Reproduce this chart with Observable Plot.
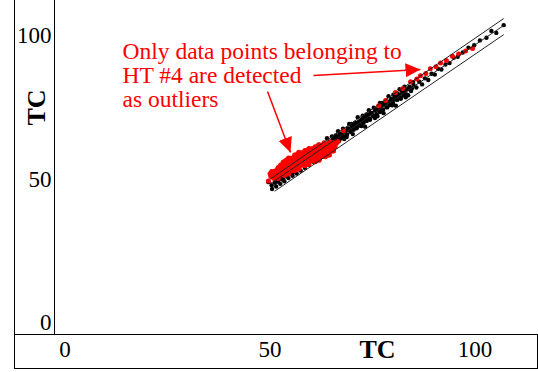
<!DOCTYPE html>
<html>
<head>
<meta charset="utf-8">
<script src="https://cdn.jsdelivr.net/npm/d3@7"></script>
<script src="https://cdn.jsdelivr.net/npm/@observablehq/plot@0.6"></script>
<style>
  html, body { margin: 0; padding: 0; background: #fff; }
  #wrap { position: relative; width: 538px; height: 372px; overflow: hidden; }
  #wrap svg { position: absolute; left: 0; top: 0; }
  .box { position: absolute; border: 1.5px solid #000; box-sizing: border-box; pointer-events: none; }
</style>
</head>
<body>
<div id="wrap"></div>
<script>
// ---- data ----
const xTicks = [0, 50, 100];
const yTicks = [0, 50, 100];
const axisTitle = "TC";

// three parallel reference lines (upper bound, fit, lower bound)
const lineNames  = ["upper", "center", "lower"];
const lineStartX = [50.1, 50.1, 51.1];
const lineStartY = [50.1, 48.5, 45.8];
const lineEndX   = [107.0, 107.0, 107.0];
const lineEndY   = [105.9, 103.5, 100.3];

// black points (normal data)
const blackX = [49.6,50.4,51.2,51.9,52.6,53.3,54.0,54.6,55.3,55.9,56.6,57.2,57.9,58.5,59.1,59.8,60.4,61.0,61.6,62.1,62.5,62.9,63.3,63.7,64.1,64.5,64.9,65.3,65.7,66.1,66.5,66.9,67.3,67.7,68.0,68.4,68.8,69.2,69.6,70.0,70.4,70.8,71.2,71.6,72.0,72.4,72.8,73.2,73.6,74.0,74.4,74.8,75.2,75.6,76.0,76.4,76.8,77.2,77.6,78.0,78.4,78.8,79.2,79.6,80.0,80.5,81.0,81.5,82.0,82.6,83.2,83.8,84.4,85.0,85.7,86.4,87.1,87.8,88.6,89.4,90.2,91.0,91.8,92.8,93.8,94.8,95.8,97.0,98.4,99.8,101.2,102.8,104.0,105.2,107.0,
  52.0,53.0,54.2,55.6,57.0,58.4,60.0,
  50.5,51.5,52.5,53.5,54.5,55.5,56.5,57.5,58.5,59.5,60.5,61.5,
  61.2,61.5,61.8,62.1,62.4,62.7,63.0,63.3,63.6,63.9,64.2,64.5,64.8,65.1,65.4,65.7,66.0,66.3,66.6,66.9,67.2,67.5,67.8,68.1,68.4,68.7,69.0,69.3,69.6,69.9,70.2,70.5,70.8,71.1,71.4,71.7,72.0,72.3,72.6,72.9,73.2,73.5,73.8,74.1,74.4,74.7,75.0,75.3,75.6,75.9,76.2,76.5,76.8,77.1,77.4,77.7,78.0,78.3,78.6,78.9,79.2,79.5,79.8,80.1,80.4,80.7,81.0,81.3,81.6,81.9,82.2,82.5,82.8,83.1,83.4,83.7,84.0,84.3,84.6,84.9];
const blackY = [49.0,47.9,48.8,49.6,50.2,50.6,51.8,52.0,53.4,53.1,54.6,54.4,55.9,55.8,57.3,57.0,58.9,58.6,60.1,59.4,61.2,60.3,61.8,62.4,61.5,63.1,62.2,63.9,62.9,64.6,63.7,65.4,64.3,66.2,65.0,66.8,65.6,67.6,66.5,68.4,67.2,69.1,68.0,69.9,68.8,70.8,69.6,71.4,70.3,72.5,71.0,73.0,71.9,73.9,72.6,74.6,73.4,75.5,74.2,76.3,75.1,77.0,75.8,77.9,76.6,78.6,77.6,79.5,78.4,80.6,79.6,81.6,80.7,82.8,81.9,83.9,83.0,85.1,84.5,86.7,86.4,88.4,88.2,89.9,90.4,92.3,92.6,94.1,95.8,96.6,98.3,99.2,101.6,100.9,103.6,
  49.1,49.9,51.0,52.4,53.6,55.1,56.7,
  46.6,47.5,48.4,49.3,50.4,51.2,52.0,53.0,54.0,55.0,56.1,57.2,
  57.4,60.4,62.0,59.8,61.9,58.4,61.2,62.4,60.4,64.3,61.4,63.0,61.2,64.9,63.3,61.0,65.2,64.2,66.7,63.4,65.8,64.8,67.6,64.0,66.7,64.7,67.7,69.2,67.0,69.2,65.7,68.5,69.7,67.7,71.6,68.7,70.3,68.5,72.1,70.5,68.3,72.5,71.5,74.0,70.7,73.1,72.1,74.9,71.3,74.0,71.9,74.9,76.5,74.3,76.5,73.0,75.8,77.0,75.0,78.9,76.0,77.5,75.7,79.4,77.8,75.6,79.8,78.8,81.3,78.0,80.4,79.4,82.2,78.5,81.2,79.2,82.2,83.8,81.6,83.8];

// red points (HT #4, detected outliers)
const redX = [50.0,50.2,50.4,50.6,50.8,51.0,51.2,51.4,51.6,51.8,52.0,52.2,52.4,52.6,52.8,53.0,53.2,53.4,53.6,53.8,54.0,54.2,54.4,54.6,54.8,55.0,55.2,55.4,55.6,55.8,56.0,56.2,56.4,56.6,56.8,57.0,57.2,57.4,57.6,57.8,58.0,58.2,58.4,58.6,58.8,59.0,59.2,59.4,59.6,59.8,60.0,60.2,60.4,60.6,60.8,61.0,61.2,61.4,61.6,61.8,62.0,62.2,62.4,62.6,62.8,63.0,63.2,63.4,63.6,63.8,64.0,64.2,64.4,64.6,64.8,65.0,65.3,65.6,65.9,66.2,66.6,
  51.0,51.0,51.5,51.5,52.0,52.0,52.5,52.5,53.0,53.0,53.5,53.5,54.0,54.0,54.5,54.5,55.0,55.0,55.5,55.5,56.0,56.0,56.5,56.5,57.0,57.0,57.5,57.5,58.0,58.0,58.5,58.5,59.0,59.0,59.5,59.5,60.0,60.0,60.5,60.5,61.0,61.0,61.5,61.5,62.0,62.0,62.5,62.5,63.0,63.0,63.5,63.5,64.0,64.0,64.5,64.5,65.0,65.0,65.5,65.5,
  52.25,52.25,53.25,53.25,54.25,54.25,55.25,55.25,56.25,56.25,57.25,57.25,58.25,58.25,59.25,59.25,60.25,60.25,61.25,61.25,62.25,62.25,63.25,63.25,64.25,64.25,
  49.6,67.9,76.5,78.2,80.6,82.4,84.3,85.8,86.7,88.0,89.1,90.5,91.6,93.0,94.5,96.0,97.7,99.4];
const redY = [51.9,51.0,52.7,50.7,52.0,52.8,51.4,52.7,52.3,53.5,50.3,53.8,52.3,55.0,52.0,53.8,55.9,51.8,53.9,53.2,55.4,52.0,55.2,54.1,56.2,55.9,53.9,57.3,53.0,55.5,57.1,54.0,56.5,55.6,57.9,53.7,57.2,55.7,58.4,55.4,57.2,59.3,55.2,57.3,56.6,58.8,55.4,58.6,57.5,59.6,59.3,57.3,60.7,56.4,58.9,60.5,57.4,59.9,59.0,61.3,57.1,60.6,59.1,61.8,58.8,60.6,62.7,58.6,60.7,60.0,62.2,58.8,62.0,60.9,63.0,62.1,61.2,62.8,61.3,62.5,63.1,
  52.4,50.3,53.0,50.7,54.1,50.6,54.4,51.7,54.9,51.7,56.2,51.3,56.7,51.7,57.4,51.8,57.3,53.1,57.4,53.2,58.4,53.0,58.6,53.6,59.4,53.6,59.2,54.9,59.2,55.0,60.0,54.7,60.1,55.2,60.7,55.2,60.5,56.4,60.4,56.5,61.3,56.1,61.3,56.6,62.0,56.6,61.7,57.8,61.5,58.0,62.3,57.8,62.2,58.3,62.7,58.4,62.5,59.7,62.3,59.8,
  53.6,51.6,54.6,52.6,55.4,53.4,56.2,54.2,56.9,54.9,57.7,55.7,58.3,56.3,58.8,56.8,59.4,57.4,59.9,57.9,60.4,58.4,61.0,59.0,61.4,59.4,
  49.4,66.9,75.6,77.4,80.2,81.6,83.9,84.9,86.0,86.8,88.4,89.1,90.4,91.3,92.8,93.6,94.6,95.5];

// annotation
const noteText = ["Only data points belonging to", "HT #4 are detected", "as outliers"];
const arrowX1 = [60.6, 49.4];
const arrowY1 = [86.1, 80.5];
const arrowX2 = [86.7, 55.0];
const arrowY2 = [88.2, 59.3];

// ---- chart ----
const serif = "Liberation Serif, Times New Roman, Times, serif";
const idx = (a) => a.map((_, i) => i);

const chart = Plot.plot({
  width: 538,
  height: 372,
  marginLeft: 64.5,
  marginRight: 63.5,
  marginTop: 35,
  marginBottom: 49.5,
  x: { domain: [0, 100] },
  y: { domain: [0, 100] },
  style: { fontFamily: serif, background: "transparent", overflow: "visible" },
  marks: [
    Plot.axisX({ ticks: xTicks, tickSize: 0, tickPadding: 18, fontSize: 23, fontFamily: serif, label: null, fill: "#000" }),
    Plot.axisY({ ticks: yTicks, tickSize: 0, tickPadding: 13.5, fontSize: 23, fontFamily: serif, label: null, fill: "#000" }),
    Plot.dot(idx(blackX), { x: (i) => blackX[i], y: (i) => blackY[i], r: 2.2, fill: "#000", stroke: "none" }),
    Plot.dot(idx(redX), { x: (i) => redX[i], y: (i) => redY[i], r: 2.5, fill: "#ff0000", stroke: "none" }),
    Plot.link(idx(lineNames), {
      x1: (i) => lineStartX[i], y1: (i) => lineStartY[i],
      x2: (i) => lineEndX[i], y2: (i) => lineEndY[i],
      stroke: "#222", strokeWidth: 1
    }),
    Plot.text([noteText.join("\n")], {
      frameAnchor: "top-left", dx: 57.5, dy: 71, textAnchor: "start", lineAnchor: "bottom",
      lineHeight: 1.02, fontSize: 23.5, fontFamily: serif, fill: "#ff0000"
    }),
    Plot.link(idx(arrowX1), {
      x1: (i) => arrowX1[i], y1: (i) => arrowY1[i],
      x2: (i) => arrowX2[i], y2: (i) => arrowY2[i],
      stroke: "#ff0000", strokeWidth: 1.5
    }),
    Plot.text([axisTitle], {
      frameAnchor: "bottom", dx: 107.5, dy: 34.5, textAnchor: "middle", lineAnchor: "bottom",
      fontSize: 26, fontWeight: "bold", fontFamily: serif, fill: "#000"
    }),
    Plot.text([axisTitle], {
      frameAnchor: "top-left", dx: -28.5, dy: 72, rotate: -90, textAnchor: "middle", lineAnchor: "middle",
      fontSize: 26, fontWeight: "bold", fontFamily: serif, fill: "#000"
    })
  ]
});

// filled arrowheads for the annotation arrows
const ns = "http://www.w3.org/2000/svg";
const defs = document.createElementNS(ns, "defs");
const marker = document.createElementNS(ns, "marker");
marker.setAttribute("id", "headRed");
marker.setAttribute("viewBox", "0 0 15 14");
marker.setAttribute("refX", "15");
marker.setAttribute("refY", "7");
marker.setAttribute("markerWidth", "15");
marker.setAttribute("markerHeight", "14");
marker.setAttribute("markerUnits", "userSpaceOnUse");
marker.setAttribute("orient", "auto");
const mp = document.createElementNS(ns, "path");
mp.setAttribute("d", "M0,0L15,7L0,14Z");
mp.setAttribute("fill", "#ff0000");
marker.appendChild(mp);
defs.appendChild(marker);
chart.insertBefore(defs, chart.firstChild);
const linkGroups = chart.querySelectorAll('g[aria-label="link"]');
const arrowGroup = linkGroups[linkGroups.length - 1];
arrowGroup.querySelectorAll("path, line").forEach((p) => p.setAttribute("marker-end", "url(#headRed)"));

const wrap = document.getElementById("wrap");
wrap.appendChild(chart);

// panel frame (left axis box and bottom axis box)
const leftBox = document.createElement("div");
leftBox.className = "box";
Object.assign(leftBox.style, { left: "14px", top: "-3px", width: "41px", height: "338px" });
const bottomBox = document.createElement("div");
bottomBox.className = "box";
Object.assign(bottomBox.style, { left: "14px", top: "333.5px", width: "524px", height: "35px" });
wrap.appendChild(leftBox);
wrap.appendChild(bottomBox);
</script>
</body>
</html>
